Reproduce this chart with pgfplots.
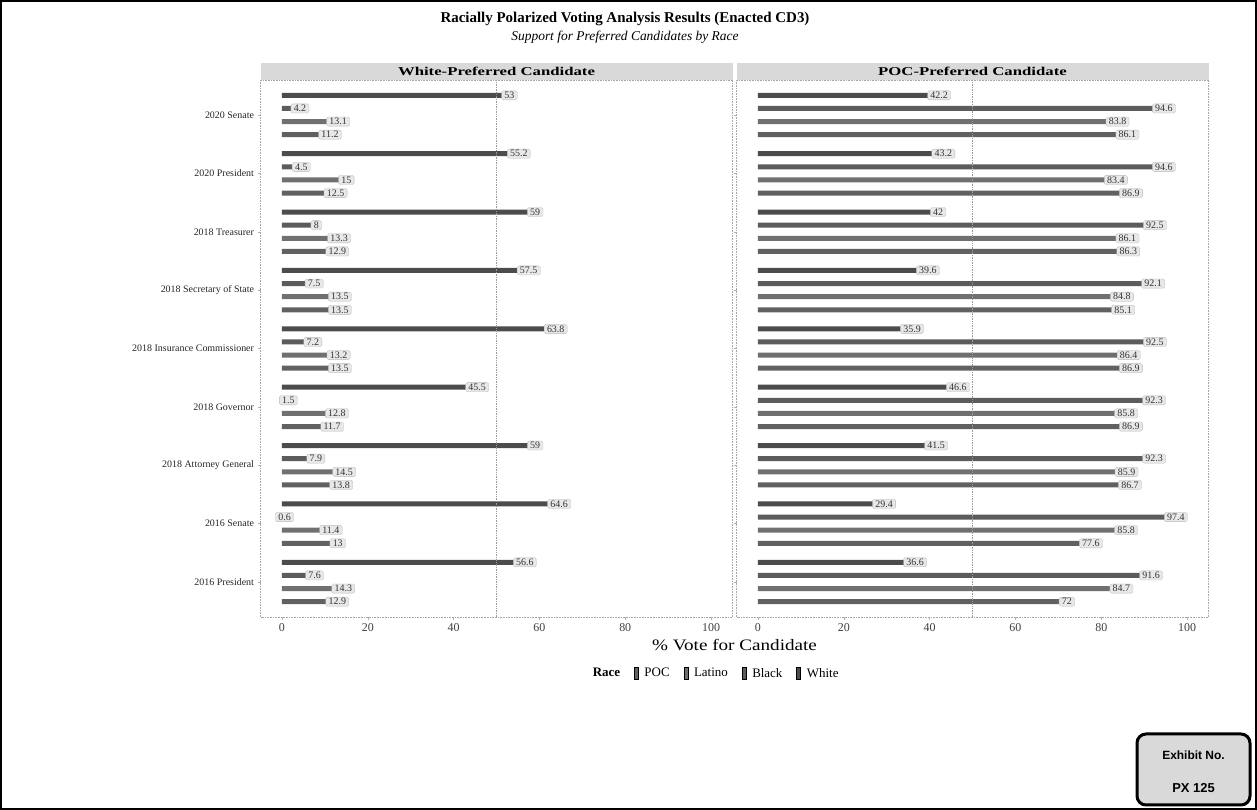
\documentclass[border=0pt]{standalone}
\usepackage{pgfplots}
\usepackage{pgfplotstable}
\pgfplotsset{compat=1.18}
\usepackage{fontspec}
\setmainfont{Liberation Serif}
\newfontfamily\exfont{Liberation Sans}
\definecolor{cW}{gray}{0.30}
\definecolor{cB}{gray}{0.36}
\definecolor{cL}{gray}{0.44}
\definecolor{cP}{gray}{0.38}

% k: 1 = 2016 President (bottom) ... 9 = 2020 Senate (top)
\pgfplotstableread{
k W B L P
1 56.6 7.6 14.3 12.9
2 64.6 0.6 11.4 13
3 59 7.9 14.5 13.8
4 45.5 1.5 12.8 11.7
5 63.8 7.2 13.2 13.5
6 57.5 7.5 13.5 13.5
7 59 8 13.3 12.9
8 55.2 4.5 15 12.5
9 53 4.2 13.1 11.2
}\whitepref
\pgfplotstableread{
k W B L P
1 36.6 91.6 84.7 72
2 29.4 97.4 85.8 77.6
3 41.5 92.3 85.9 86.7
4 46.6 92.3 85.8 86.9
5 35.9 92.5 86.4 86.9
6 39.6 92.1 84.8 85.1
7 42 92.5 86.1 86.3
8 43.2 94.6 83.4 86.9
9 42.2 94.6 83.8 86.1
}\pocpref

\pgfplotsset{
  panel/.style={
    scale only axis, width=472bp, height=537bp,
    xmin=-5, xmax=105, ymin=0.4, ymax=9.6,
    xtick={0,20,40,60,80,100},
    ytick={1,...,9},
    tick align=outside, major tick length=3bp,
    tick style={gray!60, line width=0.5bp},
    xtick pos=bottom, ytick pos=left,
    axis line style={gray!70, densely dotted, line width=0.6bp},
    xticklabel style={font=\fontsize{12}{14}\selectfont, text=black!75},
    /pgf/number format/assume math mode=true,
    clip=false,
    point meta=x,
    nodes near coords,
    every node near coord/.append style={font=\fontsize{10}{11}\selectfont, text=black!80,
      fill=gray!18, draw=gray!55, line width=0.3bp, rounded corners=1.5bp,
      inner xsep=2.8bp, inner ysep=1.2bp},
  },
  barW/.style={xbar, bar width=5bp, bar shift=0pt, fill=cW, draw=none, nodes near coords align={center}},
  barB/.style={xbar, bar width=5bp, bar shift=0pt, fill=cB, draw=none, nodes near coords align={center}},
  barL/.style={xbar, bar width=5bp, bar shift=0pt, fill=cL, draw=none, nodes near coords align={center}},
  barP/.style={xbar, bar width=5bp, bar shift=0pt, fill=cP, draw=none, nodes near coords align={center}},
}

\begin{document}
\begin{tikzpicture}[x=1bp,y=1bp]
\path (0,0) rectangle (1257,810);
\draw[line width=2bp] (1,1) rectangle (1256,809);

\begin{axis}[panel, name=left, at={(260.5bp,193bp)}, anchor=south west,
  yticklabels={2016 President,2016 Senate,2018 Attorney General,2018 Governor,2018 Insurance Commissioner,2018 Secretary of State,2018 Treasurer,2020 President,2020 Senate},
  yticklabel style={font=\fontsize{10}{12}\selectfont, text=black!85},
  legend style={at={(0.96,-0.105)}, anchor=center, draw=none, fill=none,
    font=\fontsize{13}{15}\selectfont, legend columns=5,
    /tikz/every odd column/.append style={column sep=4bp},
    /tikz/every even column/.append style={column sep=12bp}},
  legend image code/.code={\fill[#1] (0bp,-6bp) rectangle (4bp,6bp);},
]
\addlegendimage{empty legend}\addlegendentry{\textbf{Race}}
\addlegendimage{fill=cP}\addlegendentry{POC}
\addlegendimage{fill=cL}\addlegendentry{Latino}
\addlegendimage{fill=cB}\addlegendentry{Black}
\addlegendimage{fill=cW}\addlegendentry{White}
\addplot[barW, forget plot] table[x=W, y expr=\thisrow{k}+0.3375] {\whitepref};
\addplot[barB, forget plot] table[x=B, y expr=\thisrow{k}+0.1125] {\whitepref};
\addplot[barL, forget plot] table[x=L, y expr=\thisrow{k}-0.1125] {\whitepref};
\addplot[barP, forget plot] table[x=P, y expr=\thisrow{k}-0.3375] {\whitepref};
\draw[densely dotted, gray!80, line width=0.7bp] (axis cs:50,0.4) -- (axis cs:50,9.6);
\end{axis}

\begin{axis}[panel, name=right, at={(736.5bp,193bp)}, anchor=south west,
  yticklabels={}]
\addplot[barW] table[x=W, y expr=\thisrow{k}+0.3375] {\pocpref};
\addplot[barB] table[x=B, y expr=\thisrow{k}+0.1125] {\pocpref};
\addplot[barL] table[x=L, y expr=\thisrow{k}-0.1125] {\pocpref};
\addplot[barP] table[x=P, y expr=\thisrow{k}-0.3375] {\pocpref};
\draw[densely dotted, gray!80, line width=0.7bp] (axis cs:50,0.4) -- (axis cs:50,9.6);
\end{axis}

% strips
\fill[gray!30] (left.north west) rectangle ([yshift=17bp]left.north east);
\fill[gray!30] (right.north west) rectangle ([yshift=17bp]right.north east);
\node[font=\fontsize{12}{14}\selectfont\bfseries, xscale=1.4] at ([yshift=8.5bp]left.north) {White-Preferred Candidate};
\node[font=\fontsize{12}{14}\selectfont\bfseries, xscale=1.4] at ([yshift=8.5bp]right.north) {POC-Preferred Candidate};

% titles
\node[font=\fontsize{15}{17}\selectfont\bfseries] at (625,791) {Racially Polarized Voting Analysis Results (Enacted CD3)};
\node[font=\fontsize{13.5}{15}\selectfont\itshape] at (625,773) {Support for Preferred Candidates by Race};

% x label
\node[font=\fontsize{16}{18}\selectfont, xscale=1.2] at (734.5,165) {\% Vote for Candidate};

% exhibit box
\draw[line width=3bp, rounded corners=9bp, fill=gray!30] (1137,5) rectangle (1250,76);
\node[font=\exfont\fontsize{12}{14}\selectfont\bfseries] at (1193.5,55) {Exhibit No.};
\node[font=\exfont\fontsize{13}{15}\selectfont\bfseries] at (1193.5,22) {PX 125};
\end{tikzpicture}
\end{document}
